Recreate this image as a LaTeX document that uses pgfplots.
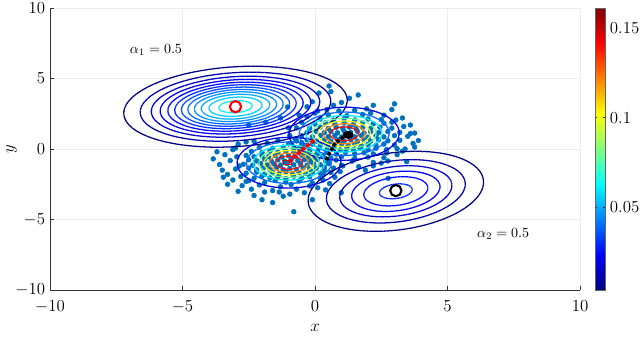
\documentclass[border=0pt]{standalone}
\usepackage{pgfplots}
\pgfplotsset{compat=1.18}
\definecolor{mblue}{rgb}{0,0.447,0.741}

% one contour ellipse: cx, cy, sigma_a, sigma_b, angle, radius, level
\newcommand{\contourell}[7]{%
  \addplot[mesh, point meta={#7}, line width=0.9pt, line join=round,
    domain=0:360, samples=73, forget plot]
    ({#1 + #6*(#3*cos(x)*cos(#5) - #4*sin(x)*sin(#5))},
     {#2 + #6*(#3*cos(x)*sin(#5) + #4*sin(x)*cos(#5))});
}

\begin{document}
\begin{tikzpicture}
\begin{axis}[
    name=main,
    width=13.25cm, height=7.05cm, scale only axis,
    xmin=-10, xmax=10, ymin=-10, ymax=10,
    axis x line*=bottom, axis y line*=left,
    axis line style={black!80},
    xtick={-10,-5,0,5,10}, ytick={-10,-5,0,5,10},
    tick align=inside, major tick length=0.11cm,
    tick style={black!80},
    grid=major, grid style={gray!15, line width=0.5pt},
    clip marker paths=true,
    ticklabel style={font=\fontsize{12}{14}\selectfont},
    xticklabel style={yshift=-4pt},
    label style={font=\fontsize{12}{14}\selectfont},
    xlabel={$x$}, ylabel={$y$},
    xlabel style={yshift=-0.05cm},
    ylabel style={yshift=-0.28cm},
    colormap/jet,
    point meta min=0.004, point meta max=0.161,
    colorbar,
    colorbar style={
        width=0.25cm,
        at={(parent axis.north east)}, anchor=north west, xshift=0.075cm,
        ytick={0.05,0.1,0.15},
        yticklabels={$0.05$,$0.1$,$0.15$},
        scaled y ticks=false,
        yticklabel style={font=\fontsize{12}{14}\selectfont},
        tick align=inside, major tick length=0.06cm,
        axis line style={black!60},
    },
]

% samples
\addplot[only marks, mark=*, mark size=1.7pt, color=mblue,
    mark options={draw=none, fill=mblue}] coordinates {
(-1.6,-2.95) (-0.7,-2.85)
(-2.1,-2.55) (-1.3,-2.68) (-0.9,-2.52) (-0.2,-2.62)
(-2.5,-2.25) (-1.9,-2.38) (-1.5,-2.22) (-1.1,-2.35) (-0.6,-2.27) (-0.1,-2.4) (0.3,-2.2)
(-2.8,-1.95) (-2.3,-2.08) (-2.0,-1.92) (-1.7,-2.05) (-1.4,-1.98) (-1.1,-2.1) (-0.8,-1.93) (-0.5,-2.06) (-0.2,-1.97) (0.2,-2.04)
(-2.6,-1.72) (-2.2,-1.64) (-1.9,-1.78) (-1.6,-1.66) (-1.35,-1.75) (-1.1,-1.62) (-0.85,-1.76) (-0.6,-1.68) (-0.35,-1.74) (-0.1,-1.63) (0.2,-1.71) (0.6,-1.66)
(-3.0,-1.42) (-2.5,-1.35) (-2.2,-1.47) (-1.95,-1.36) (-1.7,-1.44) (-1.45,-1.33) (-1.2,-1.46) (-0.95,-1.38) (-0.7,-1.45) (-0.45,-1.34) (-0.2,-1.43) (0.05,-1.37) (0.35,-1.46) (0.7,-1.35)
(-2.7,-1.08) (-2.35,-1.15) (-2.05,-1.04) (-1.8,-1.13) (-1.55,-1.06) (-1.3,-1.14) (-1.05,-1.03) (-0.8,-1.12) (-0.55,-1.05) (-0.3,-1.15) (-0.05,-1.06) (0.2,-1.12) (0.5,-1.04)
(-3.2,-0.82) (-2.5,-0.76) (-2.2,-0.85) (-1.9,-0.74) (-1.65,-0.84) (-1.4,-0.77) (-1.15,-0.86) (-0.9,-0.75) (-0.65,-0.83) (-0.4,-0.76) (-0.15,-0.85) (0.1,-0.74) (0.4,-0.84) (0.8,-0.78)
(-2.6,-0.46) (-2.3,-0.55) (-2.0,-0.47) (-1.75,-0.54) (-1.5,-0.45) (-1.25,-0.56) (-1.0,-0.48) (-0.75,-0.53) (-0.5,-0.44) (-0.25,-0.55) (0.0,-0.47) (0.3,-0.52)
(-2.4,-0.17) (-2.0,-0.25) (-1.7,-0.15) (-1.4,-0.24) (-1.1,-0.16) (-0.8,-0.23) (-0.5,-0.14) (-0.2,-0.22) (0.1,-0.18)
(-2.1,0.12) (-1.6,0.05) (-1.2,0.14) (-0.8,0.06) (-0.4,0.13)
(-1.8,0.42) (-1.0,0.36) (-0.5,0.45)
(-3.84,-0.7) (-3.46,-2.0) (-1.6,-3.8) (-0.8,-4.45) (-3.5,-1.5) (-2.9,-3.0) (-2.3,-3.3)
(-1.2,-3.35) (-3.0,0.07) (-2.6,0.5) (-0.1,-3.6) (0.4,-2.9) (-3.3,-2.5) (-2.0,-3.6)
(-3.6,-1.1) (-3.3,-1.8) (-3.1,-2.2) (-2.75,-2.6) (-2.4,-2.85) (-1.9,-3.05) (-1.35,-3.05)
(-0.95,-3.2) (-0.4,-3.1) (0.1,-2.75) (0.55,-2.45) (0.75,-2.0) (0.95,-1.6) (1.05,-1.2)
(-3.4,-0.4) (-3.1,-0.05) (-2.9,0.35) (-2.3,0.55) (-1.4,0.6) (-0.75,0.7) (-2.95,-0.55)
(-2.85,-1.2) (-2.6,-2.3) (-3.7,-0.2)
(0.5,-0.92) (1.4,-0.85) (2.2,-0.95)
(0.0,-0.58) (0.6,-0.64) (1.0,-0.55) (1.5,-0.66) (2.0,-0.57) (2.6,-0.62)
(-0.4,-0.27) (0.1,-0.34) (0.45,-0.25) (0.8,-0.36) (1.15,-0.24) (1.5,-0.33) (1.85,-0.26) (2.2,-0.35) (2.7,-0.28)
(-0.6,0.03) (-0.2,-0.05) (0.15,0.06) (0.45,-0.04) (0.7,0.05) (0.95,-0.06) (1.2,0.04) (1.45,-0.05) (1.7,0.06) (2.0,-0.03) (2.3,0.05) (2.7,-0.04) (3.1,0.02)
(-0.5,0.27) (-0.1,0.35) (0.2,0.26) (0.5,0.34) (0.75,0.25) (1.0,0.36) (1.25,0.27) (1.5,0.35) (1.75,0.24) (2.0,0.33) (2.3,0.26) (2.6,0.35) (3.0,0.28)
(-0.7,0.57) (-0.3,0.65) (0.05,0.56) (0.35,0.64) (0.6,0.55) (0.85,0.66) (1.1,0.57) (1.35,0.65) (1.6,0.54) (1.85,0.64) (2.1,0.56) (2.4,0.65) (2.75,0.58) (3.2,0.62)
(-0.5,0.94) (-0.1,0.86) (0.2,0.95) (0.5,0.87) (0.75,0.96) (1.0,0.85) (1.25,0.94) (1.5,0.86) (1.75,0.95) (2.0,0.84) (2.3,0.93) (2.6,0.86) (3.0,0.95) (3.5,0.9)
(-0.3,1.17) (0.05,1.25) (0.35,1.16) (0.6,1.24) (0.85,1.15) (1.1,1.26) (1.35,1.17) (1.6,1.25) (1.85,1.14) (2.1,1.23) (2.4,1.16) (2.75,1.24) (3.2,1.18)
(-0.2,1.47) (0.2,1.55) (0.5,1.45) (0.8,1.54) (1.05,1.46) (1.3,1.55) (1.55,1.44) (1.8,1.53) (2.1,1.46) (2.45,1.55) (2.9,1.48)
(0.0,1.77) (0.4,1.85) (0.75,1.76) (1.1,1.84) (1.45,1.75) (1.8,1.86) (2.2,1.78) (2.6,1.83)
(0.2,2.12) (0.7,2.05) (1.1,2.15) (1.5,2.06) (2.0,2.13) (2.5,2.08)
(0.5,2.42) (1.2,2.36) (1.8,2.45)
(3.76,1.13) (3.76,0.14) (3.46,-0.9) (2.76,-2.08) (2.5,-1.0) (0.99,-3.1) (3.3,2.2) (2.9,2.8)
(0.53,4.47) (0.6,4.07) (0.15,3.97) (1.63,3.83) (1.0,3.3) (2.2,3.1) (-0.3,3.0) (3.6,1.7)
(1.9,-1.5) (0.3,-1.8) (-1.03,2.98) (-1.3,2.2) (-1.86,1.9) (-2.5,1.7) (-0.6,2.4) (-1.0,1.5)
(0.1,2.7) (3.9,0.6)
(-0.9,0.4) (-0.95,0.95) (-0.7,1.5) (-0.5,1.9) (-0.3,2.3) (0.0,2.55) (0.45,2.8) (0.9,2.7)
(1.5,2.75) (2.1,2.55) (2.6,2.4) (3.05,2.05) (3.35,1.6) (3.6,1.1) (3.7,0.4) (3.4,0.0)
(3.1,-0.4) (2.75,-0.85) (2.2,-1.2) (1.65,-1.25) (1.0,-1.15) (0.35,-1.3) (-0.2,-0.9)
(3.3,-0.15) (2.9,1.9) (1.95,2.85) (0.7,3.1) (-0.1,3.35) (1.3,3.6) (3.0,3.2)
};

% initial component 1
\foreach \r/\c in {2.2546/0.005, 1.9227/0.010, 1.6988/0.015, 1.5201/0.020,
    1.3654/0.025, 1.2246/0.030, 1.0915/0.035, 0.9614/0.040, 0.8299/0.045,
    0.6914/0.050, 0.5361/0.055, 0.3367/0.060}{
  \edef\tmp{\noexpand\contourell{-3}{3}{1.89}{1.245}{11}{\r}{\c}}\tmp
}
% initial component 2
\foreach \r/\c in {1.927/0.005, 1.525/0.010, 1.231/0.015, 0.970/0.020,
    0.703/0.025, 0.359/0.030}{
  \edef\tmp{\noexpand\contourell{3.05}{-3}{1.806}{1.365}{28}{\r}{\c}}\tmp
}
% fitted components
\foreach \r/\c in {2.042/0.02, 1.669/0.04, 1.405/0.06, 1.183/0.08,
    0.976/0.10, 0.767/0.12, 0.529/0.14}{
  \edef\tmp{\noexpand\contourell{-0.98}{-0.97}{0.96}{0.88}{5}{\r}{\c}}\tmp
  \edef\tmp{\noexpand\contourell{1.1}{1.08}{1.02}{0.92}{8}{\r}{\c}}\tmp
}

% mean trajectories
\addplot[red, line width=2.6pt, dash pattern=on 3pt off 1.2pt] coordinates {
(-0.04,0.64) (-0.15,0.45) (-0.28,0.25) (-0.42,0.05) (-0.55,-0.15)
(-0.68,-0.38) (-0.82,-0.6) (-0.92,-0.8) (-1.0,-0.95)};
\addplot[black, line width=2.4pt, dash pattern=on 2.5pt off 1.2pt] coordinates {
(0.42,-0.78) (0.5,-0.45) (0.6,-0.1) (0.72,0.3) (0.9,0.62) (1.1,0.88) (1.3,1.05)};
\addplot[only marks, mark=*, black, mark size=2.6pt,
    mark options={xscale=1.4}] coordinates {(1.25,1.0)};
\addplot[only marks, mark=square, red!85!black, mark size=1.4pt,
    mark options={xscale=2, line width=0.6pt}] coordinates {(-1.05,-0.98)};

% initial means
\addplot[only marks, mark=o, red, mark size=4pt,
    mark options={line width=1.5pt}] coordinates {(-3,3)};
\addplot[only marks, mark=o, black, mark size=4pt,
    mark options={line width=1.5pt}] coordinates {(3.05,-2.95)};

\node[font=\fontsize{10}{12}\selectfont] at (axis cs:-6.0,7.0) {$\alpha_1 = 0.5$};
\node[font=\fontsize{10}{12}\selectfont] at (axis cs:7.1,-6.0) {$\alpha_2 = 0.5$};
\end{axis}
\pgfresetboundingbox
\path ([shift={(-1.25cm,-1.175cm)}]main.south west)
    rectangle ([shift={(1.5cm,0.2cm)}]main.north east);
\end{tikzpicture}
\end{document}
